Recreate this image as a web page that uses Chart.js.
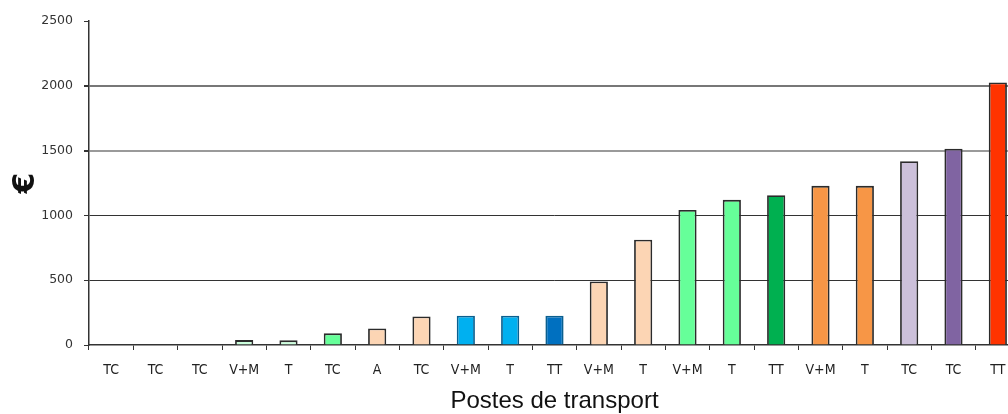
<!doctype html>
<html>
<head>
    <meta charset="UTF-8">
    <title>Postes de transport</title>
    <style>
        html, body { margin: 0; padding: 0; background: #fff; overflow: hidden; }
        #wrap { width: 1020px; height: 414px; }
    </style>
</head>
<body>
<div id="wrap"><canvas id="myCanvas"></canvas></div>
<script src="https://cdn.jsdelivr.net/npm/chart.js@4.4.1/dist/chart.umd.min.js"></script>
<script>
    // postes (categories) and amounts in euros
    var postes = ['TC','TC','TC','V+M','T','TC','A','TC','V+M','T','TT','V+M','T','V+M','T','TT','V+M','T','TC','TC','TT'];
    var montants = [0, 0, 0, 38, 36, 90, 128, 220, 226, 226, 226, 490, 812, 1042, 1120, 1155, 1228, 1228, 1418, 1515, 2025];
    var couleurs = ['#ccffdd','#ccffdd','#ccffdd','#ccffdd','#ccffdd','#66ff99','#fcd5b4','#fcd5b4',
        '#00b0f0','#00b0f0','#0070c0','#fcd5b4','#fcd5b4','#66ff99','#66ff99','#00b050',
        '#f79646','#f79646','#ccc0da','#8064a2','#ff3300'];
    var yTicks = [0, 500, 1000, 1500, 2000, 2500];

    var ctx = document.getElementById('myCanvas').getContext('2d');
    var myChart = new Chart(ctx, {
        type: 'bar',
        data: {
            labels: postes,
            datasets: [{
                data: montants,
                backgroundColor: couleurs,
                borderColor: couleurs.map(function(c){ return (c === '#00b0f0' || c === '#0070c0') ? '#0a5f8f' : '#2b2b2b'; }),
                borderWidth: 1.8,
                categoryPercentage: 1,
                barPercentage: 0.41
            }]
        },
        options: {
            responsive: true,
            maintainAspectRatio: false,
            animation: false,
            layout: { padding: { top: 21, right: 0, left: 0, bottom: 0 } },
            plugins: { legend: { display: false }, tooltip: { enabled: false } },
            scales: {
                x: {
                    offset: true,
                    grid: {
                        offset: true,
                        drawOnChartArea: false,
                        tickLength: 5,
                        tickColor: '#333'
                    },
                    border: { color: '#333', width: 1.5 },
                    ticks: {
                        color: '#222',
                        font: { family: "'DejaVu Sans Condensed', 'Liberation Sans Narrow', 'DejaVu Sans'", size: 14 },
                        maxRotation: 0,
                        autoSkip: false,
                        padding: 12
                    },
                    title: {
                        display: true,
                        text: 'Postes de transport',
                        color: '#111',
                        font: { family: 'Liberation Sans', size: 24 },
                        padding: { top: 0, bottom: -2 }
                    },
                    afterFit: function(scale){ scale.height = 69; }
                },
                y: {
                    min: 0,
                    max: 2500,
                    afterBuildTicks: function(scale){
                        scale.ticks = yTicks.map(function(v){ return { value: v }; });
                    },
                    grid: {
                        color: function(c){
                            var v = c.tick ? c.tick.value : 0;
                            if (v === 2000) return '#777';
                            if (v === 1500) return '#9a9a9a';
                            if (v === 500 || v === 1000) return '#333';
                            return 'rgba(0,0,0,0)';
                        },
                        lineWidth: function(c){
                            var v = c.tick ? c.tick.value : 0;
                            return (v === 2000 || v === 1500) ? 2 : 1;
                        },
                        tickColor: '#333',
                        tickLength: 5
                    },
                    border: { color: '#333', width: 1.5 },
                    ticks: {
                        color: '#333',
                        font: { family: 'DejaVu Sans', size: 12.5 },
                        padding: 11,
                        callback: function(v){ return String(v); }
                    },
                    title: {
                        display: true,
                        text: '€',
                        color: '#111',
                        font: { family: 'DejaVu Sans', size: 30, weight: 'bold' },
                        padding: { top: 8, bottom: 0 }
                    },
                    afterFit: function(scale){ scale.width = 89; }
                }
            }
        }
    });
</script>
</body>
</html>
